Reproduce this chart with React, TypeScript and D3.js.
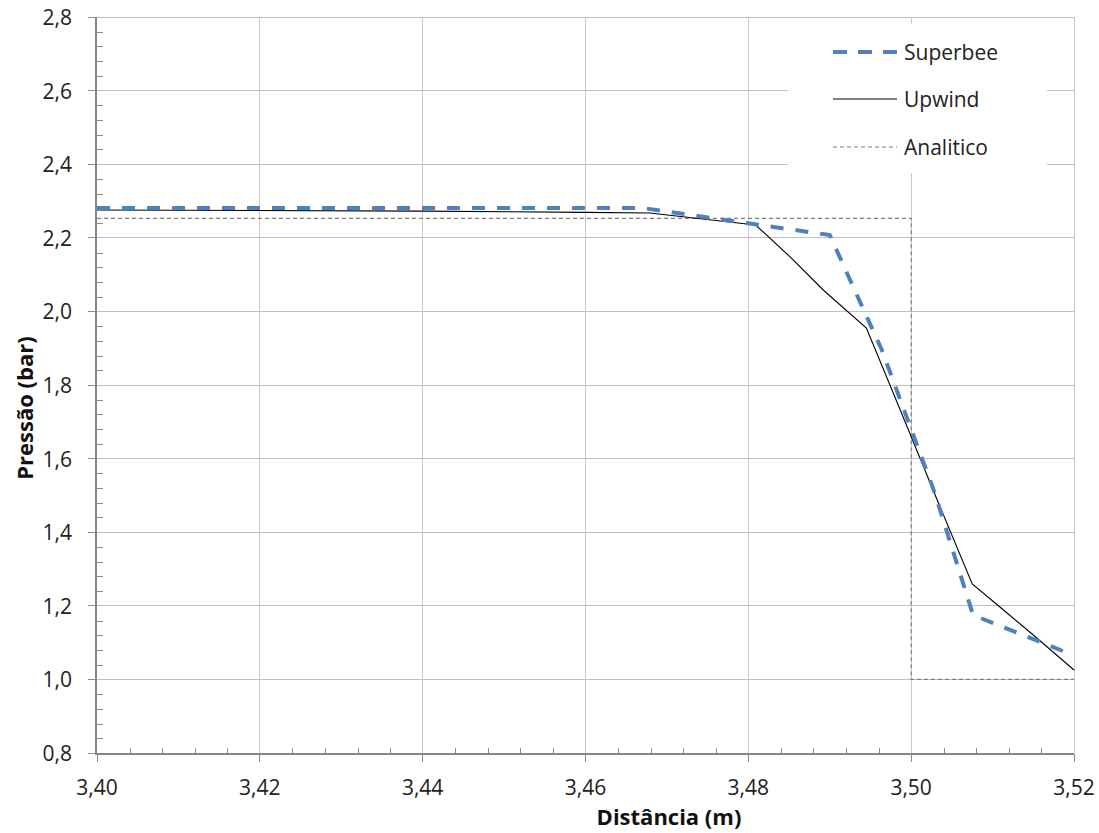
import React, { useEffect, useRef } from "react";
import * as d3 from "d3";

// ---- data ----
const xTicks = [3.40, 3.42, 3.44, 3.46, 3.48, 3.50, 3.52];
const yTicks = [0.8, 1.0, 1.2, 1.4, 1.6, 1.8, 2.0, 2.2, 2.4, 2.6, 2.8];

const superbeeX = [3.400, 3.467, 3.4808, 3.4900, 3.4964, 3.5029, 3.5076, 3.520];
const superbeeY = [2.281, 2.281, 2.2367, 2.2076, 1.8951, 1.5065, 1.175, 1.065];

const upwindX = [3.400, 3.440, 3.460, 3.4679, 3.4809, 3.4851, 3.4892, 3.4945, 3.4978, 3.5031, 3.5075, 3.5109, 3.5150, 3.520];
const upwindY = [2.2755, 2.2725, 2.2690, 2.2674, 2.2348, 2.1486, 2.0582, 1.9549, 1.7783, 1.4929, 1.2592, 1.1967, 1.1207, 1.0255];

const analiticoX = [3.40, 3.50, 3.50, 3.52];
const analiticoY = [2.253, 2.253, 1.0, 1.0];

const seriesNames = ["Superbee", "Upwind", "Analitico"];

const W = 1099;
const H = 833;
const FONT = "'Open Sans', 'Noto Sans', sans-serif";

export default function App() {
  const ref = useRef<SVGSVGElement | null>(null);

  useEffect(() => {
    const svg = d3.select(ref.current);
    svg.selectAll("*").remove();

    const x = d3.scaleLinear().domain([3.40, 3.52]).range([97, 1074]);
    const y = d3.scaleLinear().domain([0.8, 2.8]).range([753, 17]);

    svg.append("rect").attr("width", W).attr("height", H).attr("fill", "#fff");

    const grid = svg.append("g").attr("shape-rendering", "crispEdges");
    // horizontal gridlines
    grid.selectAll("line.h")
      .data(yTicks.filter((v) => v > 0.8))
      .join("line")
      .attr("x1", x(3.40)).attr("x2", x(3.52))
      .attr("y1", (d) => y(d)).attr("y2", (d) => y(d))
      .attr("stroke", "#c0c0c0").attr("stroke-width", 1);
    // vertical gridlines
    grid.selectAll("line.v")
      .data(xTicks.filter((v) => v > 3.40))
      .join("line")
      .attr("x1", (d) => x(d)).attr("x2", (d) => x(d))
      .attr("y1", y(2.8)).attr("y2", y(0.8))
      .attr("stroke", "#c8c8c8").attr("stroke-width", 1);

    // axes
    const ax = svg.append("g").attr("shape-rendering", "crispEdges");
    const yMinor = d3.range(0.8, 2.8001, 0.04).filter((v) => Math.abs(v * 5 - Math.round(v * 5)) > 1e-6);
    const xMinor = d3.range(3.40, 3.52001, 0.004).filter((v) => Math.abs(v * 50 - Math.round(v * 50)) > 1e-6);

    ax.selectAll("line.ymaj").data(yTicks).join("line")
      .attr("x1", 88).attr("x2", 96)
      .attr("y1", (d) => y(d)).attr("y2", (d) => y(d))
      .attr("stroke", "#8c8c8c").attr("stroke-width", 1);
    ax.selectAll("line.ymin").data(yMinor).join("line")
      .attr("x1", 96).attr("x2", 103)
      .attr("y1", (d) => Math.round(y(d))).attr("y2", (d) => Math.round(y(d)))
      .attr("stroke", "#8c8c8c").attr("stroke-width", 1);
    ax.selectAll("line.xmaj").data(xTicks).join("line")
      .attr("x1", (d) => x(d)).attr("x2", (d) => x(d))
      .attr("y1", 754).attr("y2", 762)
      .attr("stroke", "#8c8c8c").attr("stroke-width", 1);
    ax.selectAll("line.xmin").data(xMinor).join("line")
      .attr("x1", (d) => Math.round(x(d))).attr("x2", (d) => Math.round(x(d)))
      .attr("y1", 748).attr("y2", 754)
      .attr("stroke", "#8c8c8c").attr("stroke-width", 1);

    ax.append("line").attr("x1", 96).attr("x2", 96).attr("y1", y(2.8)).attr("y2", 755)
      .attr("stroke", "#868686").attr("stroke-width", 2);
    ax.append("line").attr("x1", 95).attr("x2", x(3.52)).attr("y1", 754).attr("y2", 754)
      .attr("stroke", "#868686").attr("stroke-width", 2);

    // tick labels
    const fmtY = (v: number) => v.toFixed(1).replace(".", ",");
    const fmtX = (v: number) => v.toFixed(2).replace(".", ",");
    svg.append("g").selectAll("text").data(yTicks).join("text")
      .attr("x", 72).attr("y", (d) => y(d))
      .attr("text-anchor", "end").attr("dominant-baseline", "central")
      .attr("font-family", FONT).attr("font-size", 21).attr("fill", "#222")
      .text(fmtY);
    svg.append("g").selectAll("text").data(xTicks).join("text")
      .attr("x", (d) => x(d)).attr("y", 787)
      .attr("text-anchor", "middle").attr("dominant-baseline", "central")
      .attr("font-family", FONT).attr("font-size", 21).attr("fill", "#222")
      .text(fmtX);

    // axis titles
    svg.append("text")
      .attr("transform", "translate(24,408) rotate(-90)")
      .attr("text-anchor", "middle").attr("dominant-baseline", "central")
      .attr("font-family", FONT).attr("font-size", 22).attr("font-weight", "bold").attr("fill", "#111")
      .text("Pressão (bar)");
    svg.append("text")
      .attr("x", 669).attr("y", 816)
      .attr("text-anchor", "middle").attr("dominant-baseline", "central")
      .attr("font-family", FONT).attr("font-size", 22).attr("font-weight", "bold").attr("fill", "#111")
      .text("Distância (m)");

    const line = d3.line<[number, number]>().x((d) => x(d[0])).y((d) => y(d[1]));
    const zip = (a: number[], b: number[]) => a.map((v, i) => [v, b[i]] as [number, number]);

    const plot = svg.append("g");
    plot.append("path").attr("d", line(zip(analiticoX, analiticoY)))
      .attr("fill", "none").attr("stroke", "#7f7f7f").attr("stroke-width", 1.2)
      .attr("stroke-dasharray", "4,3");
    plot.append("path").attr("d", line(zip(upwindX, upwindY)))
      .attr("fill", "none").attr("stroke", "#000").attr("stroke-width", 1.1);
    plot.append("path").attr("d", line(zip(superbeeX, superbeeY)))
      .attr("fill", "none").attr("stroke", "#4f81bd").attr("stroke-width", 4)
      .attr("stroke-dasharray", "13,12").attr("stroke-linejoin", "round");

    // legend
    const lg = svg.append("g");
    lg.append("rect").attr("x", 788).attr("y", 24).attr("width", 259).attr("height", 149).attr("fill", "#fff");
    const ly = [52, 99, 147];
    const styles = [
      { stroke: "#4f81bd", width: 4, dash: "14,11" },
      { stroke: "#000", width: 1.1, dash: "" },
      { stroke: "#7f7f7f", width: 1.2, dash: "4,3" },
    ];
    seriesNames.forEach((name, i) => {
      lg.append("line").attr("x1", 833).attr("x2", 897).attr("y1", ly[i]).attr("y2", ly[i])
        .attr("stroke", styles[i].stroke).attr("stroke-width", styles[i].width)
        .attr("stroke-dasharray", styles[i].dash || null);
      lg.append("text").attr("x", 904).attr("y", ly[i])
        .attr("dominant-baseline", "central")
        .attr("font-family", FONT).attr("font-size", 21).attr("fill", "#222")
        .text(name);
    });
  }, []);

  return (
    <svg
      ref={ref}
      width={W}
      height={H}
      style={{ position: "absolute", left: 0, top: 0, display: "block" }}
    />
  );
}
